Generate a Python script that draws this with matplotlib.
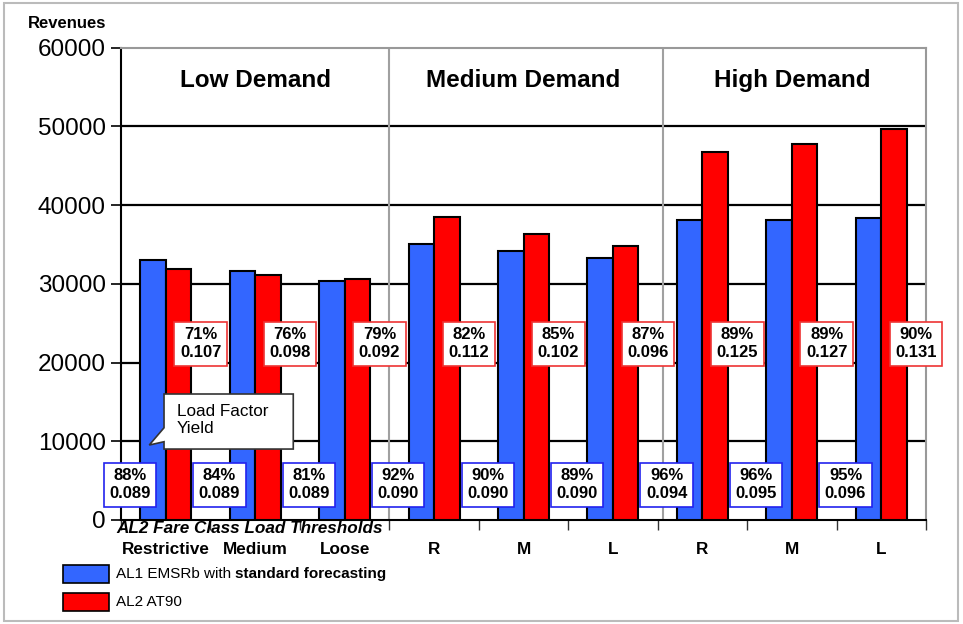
import matplotlib
matplotlib.use("Agg")
import matplotlib.pyplot as plt
from matplotlib.patches import Rectangle, Polygon
import matplotlib.transforms as mtransforms
import numpy as np

plt.rcParams['font.family'] = ['Liberation Sans', 'DejaVu Sans']

# ---- data ----
categories = ["Restrictive", "Medium", "Loose", "R", "M", "L", "R", "M", "L"]
groups = ["Low Demand", "Medium Demand", "High Demand"]
al1_rev = [33000, 31600, 30300, 35000, 34100, 33300, 38100, 38100, 38300]
al2_rev = [31900, 31100, 30600, 38500, 36300, 34800, 46700, 47700, 49600]
al1_lf = ["88%", "84%", "81%", "92%", "90%", "89%", "96%", "96%", "95%"]
al1_yield = ["0.089", "0.089", "0.089", "0.090", "0.090", "0.090", "0.094", "0.095", "0.096"]
al2_lf = ["71%", "76%", "79%", "82%", "85%", "87%", "89%", "89%", "90%"]
al2_yield = ["0.107", "0.098", "0.092", "0.112", "0.102", "0.096", "0.125", "0.127", "0.131"]
yticks = [0, 10000, 20000, 30000, 40000, 50000, 60000]
series_names = ["AL1 EMSRb with ", "standard forecasting", "AL2 AT90"]

BLUE = "#3366FF"
RED = "#FF0000"

fig = plt.figure(figsize=(9.63, 6.24), dpi=100)
ax = fig.add_axes([121/963, 1-520/624, (926-121)/963, (520-47.5)/624])

x = np.arange(len(categories))
w = 0.285
ax.bar(x - w/2, al1_rev, w, color=BLUE, edgecolor="black", linewidth=1.5, zorder=3)
ax.bar(x + w/2, al2_rev, w, color=RED, edgecolor="black", linewidth=1.5, zorder=3)

ax.set_xlim(-0.5, 8.5)
ax.set_ylim(0, 60000)
ax.set_yticks(yticks)
ax.set_yticklabels([str(v) for v in yticks], fontsize=17.5)
ax.tick_params(axis='y', direction='out', length=7, width=1.2, pad=4, colors='black')
for yv in yticks[1:-1]:
    ax.axhline(yv, color='black', linewidth=1.6, zorder=1)

# x axis
ax.set_xticks(x)
ax.set_xticklabels(categories, fontsize=12.3, fontweight='bold')
ax.tick_params(axis='x', which='major', length=0, pad=16)
ax.set_xticks(np.arange(-0.5, 8.6, 1.0), minor=True)
ax.tick_params(axis='x', which='minor', direction='out', length=7, width=1.0, color='#333333')

for s in ['left', 'bottom']:
    ax.spines[s].set_color('black')
    ax.spines[s].set_linewidth(1.5)
for s in ['top', 'right']:
    ax.spines[s].set_color('#999999')
    ax.spines[s].set_linewidth(1.5)

# group separators
for gx in [2.5, 5.56]:
    ax.axvline(gx, color='#A0A0A0', linewidth=1.5, zorder=1)

# group titles
trans = mtransforms.blended_transform_factory(ax.transData, ax.transAxes)
for gi, g in enumerate(groups):
    ax.text(gi*3 + 1, 0.931, g, transform=trans, ha='center', va='center',
            fontsize=17.5, fontweight='bold')

# annotation boxes
for i in range(len(categories)):
    ax.text(i - 0.40, 4450, f"{al1_lf[i]}\n{al1_yield[i]}", ha='center', va='center',
            fontsize=12, fontweight='bold', linespacing=1.25, zorder=5,
            bbox=dict(boxstyle='square,pad=0.33', facecolor='white', edgecolor='#2222EE', linewidth=1.2))
    ax.text(i + 0.39, 22350, f"{al2_lf[i]}\n{al2_yield[i]}", ha='center', va='center',
            fontsize=12, fontweight='bold', linespacing=1.25, zorder=5,
            bbox=dict(boxstyle='square,pad=0.33', facecolor='white', edgecolor='#EE3333', linewidth=1.2))

# callout
callout = Polygon([(-0.019, 16000), (1.426, 16000), (1.426, 9010), (-0.019, 9010),
                   (-0.019, 9940), (-0.184, 9520), (-0.019, 11710)],
                  closed=True, facecolor='white', edgecolor='#333333', linewidth=1.2, zorder=6)
ax.add_patch(callout)
ax.text(0.123, 12700, "Load Factor\nYield", ha='left', va='center', fontsize=12.3,
        linespacing=1.2, zorder=7)

# axis captions
ax.text(-0.556, -0.019, "AL2 Fare Class Load Thresholds", transform=trans, ha='left', va='center',
        fontsize=12.3, fontweight='bold', fontstyle='italic')
fig.text(28/963, 1-24/624, "Revenues", ha='left', va='center', fontsize=12, fontweight='bold')

# legend
fig.patches.append(Rectangle((63/963, 1-583/624), 46/963, 18.5/624, transform=fig.transFigure,
                             facecolor=BLUE, edgecolor='black', linewidth=1.2))
fig.patches.append(Rectangle((63/963, 1-611/624), 46/963, 18/624, transform=fig.transFigure,
                             facecolor=RED, edgecolor='black', linewidth=1.2))
t1 = fig.text(116/963, 1-574/624, series_names[0], ha='left', va='center', fontsize=11)
fig.canvas.draw()
ax.annotate(series_names[1], xy=(1, 0), xycoords=t1, ha='left', va='bottom',
            fontsize=11, fontweight='bold', annotation_clip=False)
fig.text(116/963, 1-602/624, series_names[2], ha='left', va='center', fontsize=11)

# outer frame
fig.patches.append(Rectangle((4/963, 3/624), 954/963, 618/624, transform=fig.transFigure,
                             facecolor='none', edgecolor='#BBBBBB', linewidth=1.5))

fig.savefig("out.png", dpi=100)
